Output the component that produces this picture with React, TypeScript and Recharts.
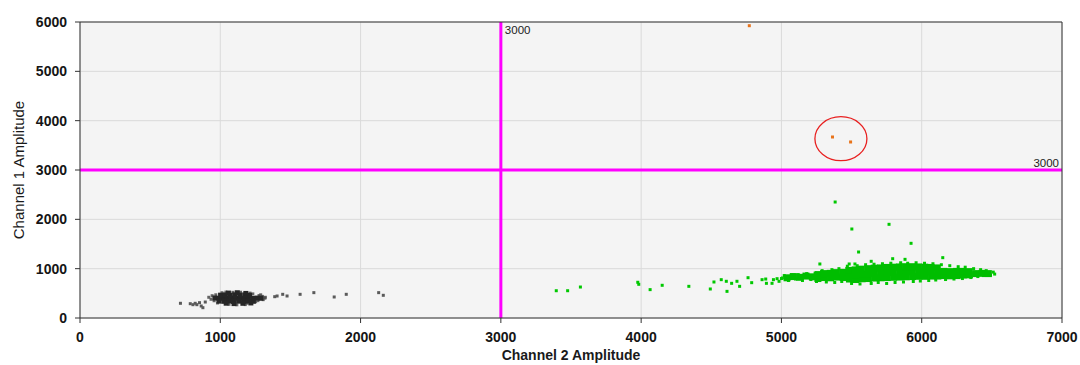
import React from 'react';
import {
  ScatterChart, Scatter, XAxis, YAxis, CartesianGrid, ReferenceLine, ReferenceDot,
} from 'recharts';

// droplet amplitudes: [channel 2, channel 1]
const xTicks = [0, 1000, 2000, 3000, 4000, 5000, 6000, 7000];
const yTicks = [0, 1000, 2000, 3000, 4000, 5000, 6000];
const thresholdCh1 = 3000;
const thresholdCh2 = 3000;
const circled = [5424, 3634];

// double negative cluster (dense centre + loose edge)
const grayCore: [number, number][] = [
  [962, 405], [990, 398], [1021, 402], [1050, 395], [1081, 404], [1110, 399], [1139, 406], [1171, 398],
  [1200, 403], [1231, 397], [1262, 404], [1290, 400],
  [992, 342], [1026, 338], [1061, 345], [1094, 336], [1131, 341], [1166, 337], [1199, 344], [1236, 339],
  [1002, 463], [1036, 468], [1071, 461], [1104, 470], [1142, 464], [1176, 467], [1209, 460],
  [1058, 505], [1121, 512], [1182, 498],
  [1042, 300], [1098, 292], [1161, 298], [1218, 305],
];
const grayEdge: [number, number][] = [
  [918, 420], [934, 380], [942, 452], [956, 350], [968, 470], [980, 305], [1012, 512], [1040, 525],
  [1062, 278], [1090, 520], [1118, 268], [1144, 522], [1178, 272], [1190, 300], [1212, 505],
  [1232, 488], [1252, 330], [1268, 352], [1276, 455], [1288, 470], [1300, 438], [1306, 372],
  [1318, 402], [1321, 420],
];
const graySparse: [number, number][] = [
  [716, 298], [786, 290], [805, 270], [821, 298], [833, 270], [852, 311], [864, 243], [876, 209],
  [893, 324], [1388, 432], [1405, 446], [1445, 480], [1476, 446], [1569, 480], [1667, 514],
  [1812, 426], [1898, 480], [2129, 514], [2162, 460],
];

// channel 2 positive cluster
const greenCore: [number, number][] = [
  [5040, 815], [5085, 840], [5130, 825], [5175, 850], [5220, 835],
  [5260, 800], [5262, 880], [5305, 820], [5300, 900], [5350, 815], [5348, 905],
  [5395, 830], [5392, 920], [5440, 820], [5437, 925],
  [5485, 790], [5482, 885], [5480, 965], [5530, 780], [5528, 880], [5526, 975],
  [5575, 795], [5573, 890], [5570, 990], [5620, 800], [5618, 900], [5616, 1000],
  [5665, 810], [5663, 905], [5661, 1010], [5710, 815], [5708, 915], [5706, 1015],
  [5755, 820], [5753, 920], [5751, 1025], [5800, 825], [5798, 925], [5796, 1030],
  [5845, 830], [5843, 930], [5841, 1035], [5890, 835], [5888, 935], [5886, 1040],
  [5935, 840], [5933, 940], [5931, 1040], [5980, 845], [5978, 940], [5976, 1035],
  [6025, 845], [6023, 940], [6021, 1030], [6070, 850], [6068, 940], [6066, 1025],
  [6115, 850], [6113, 935], [6111, 1015],
  [6160, 860], [6158, 945], [6205, 855], [6203, 940], [6250, 860], [6248, 945],
  [6295, 870], [6293, 945], [6340, 875], [6338, 940],
  [6385, 900], [6430, 905], [6475, 900],
];
const greenEdge: [number, number][] = [
  [5000, 800], [5020, 860], [5050, 760], [5070, 870], [5100, 790], [5120, 880], [5150, 760],
  [5180, 900], [5210, 780], [5240, 910], [5250, 740], [5290, 960], [5320, 730], [5360, 980],
  [5380, 720], [5410, 1000], [5430, 740], [5470, 1050], [5500, 700], [5540, 1060], [5560, 690],
  [5600, 1080], [5640, 700], [5660, 1090], [5690, 720], [5720, 1100], [5750, 700], [5780, 1110],
  [5810, 720], [5850, 1120], [5870, 730], [5900, 1110], [5940, 740], [5960, 1120], [5990, 750],
  [6020, 1110], [6050, 760], [6080, 1100], [6100, 770], [6140, 1080], [6170, 780], [6200, 1060],
  [6230, 790], [6260, 1040], [6290, 800], [6310, 1030], [6350, 820], [6370, 1000], [6400, 840],
  [6420, 980], [6440, 860], [6460, 960], [6490, 870], [6510, 930], [6520, 890],
];
const greenSparse: [number, number][] = [
  [3395, 553], [3476, 553], [3567, 628], [3976, 724], [3983, 683], [4064, 575], [4150, 663],
  [4340, 642], [4493, 588], [4519, 730], [4571, 777], [4607, 744], [4612, 540], [4645, 703],
  [4683, 744], [4702, 642], [4762, 817], [4788, 716], [4862, 777], [4888, 790], [4893, 703],
  [4933, 703], [4943, 777], [4969, 797], [4983, 743], [5007, 811], [5060, 824], [5086, 871],
  [5119, 811],
  [5383, 2351], [5502, 1804], [5767, 1899], [5924, 1514], [5550, 1338], [6150, 1223],
  [5274, 1095], [5640, 1149], [5793, 1202], [5881, 1189], [5483, 1095], [5524, 1095],
];

// double positive droplets
const orangePts: [number, number][] = [
  [4771, 5925], [5364, 3669], [5493, 3568],
];

const toPts = (arr: [number, number][]) => arr.map(([x, y]) => ({ x, y }));

const square = (size: number, fill: string, opacity = 1) => (p: any) => (
  <rect x={p.cx - size / 2} y={p.cy - size / 2} width={size} height={size} fill={fill} fillOpacity={opacity} />
);

const FONT = '"Liberation Sans", Arial, sans-serif';
const tickStyle = { fontSize: 14, fontWeight: 700, fill: '#151515', fontFamily: FONT };

const VLabel = (props: any) => {
  const { x, y } = props.viewBox;
  return (
    <text x={x + 4} y={y + 12} fontSize={11.5} fill="#222" fontFamily={FONT}>
      {thresholdCh2}
    </text>
  );
};

const HLabel = (props: any) => {
  const { x, y, width } = props.viewBox;
  return (
    <text x={x + width - 3} y={y - 3} fontSize={11.5} fill="#222" fontFamily={FONT} textAnchor="end">
      {thresholdCh1}
    </text>
  );
};

export default function App() {
  return (
    <div style={{ position: 'absolute', left: 0, top: 0, width: 1080, height: 365, background: '#fff', overflow: 'hidden' }}>
      <ScatterChart width={1080} height={365} margin={{ top: 22, right: 18, bottom: 0, left: 0 }}>
        <CartesianGrid fill="#f4f4f4" stroke="#dadada" />
        <XAxis
          type="number" dataKey="x" domain={[0, 7000]} ticks={xTicks} height={47}
          tick={tickStyle} tickSize={5} tickMargin={9}
          axisLine={{ stroke: '#333' }} tickLine={{ stroke: '#333' }} allowDataOverflow
        />
        <XAxis
          xAxisId="top" orientation="top" mirror type="number" domain={[0, 7000]} ticks={xTicks}
          height={4} tick={false} tickSize={3} axisLine={{ stroke: '#333' }} tickLine={{ stroke: '#333' }}
        />
        <YAxis
          type="number" dataKey="y" domain={[0, 6000]} ticks={yTicks} width={80}
          tick={tickStyle} tickSize={5} tickMargin={8}
          axisLine={{ stroke: '#333' }} tickLine={{ stroke: '#333' }} allowDataOverflow
        />
        <YAxis
          yAxisId="right" orientation="right" mirror type="number" domain={[0, 6000]} ticks={yTicks}
          width={4} tick={false} tickSize={3} axisLine={{ stroke: '#333' }} tickLine={{ stroke: '#333' }}
        />
        <ReferenceLine x={thresholdCh2} stroke="#ff00ff" strokeWidth={3} label={<VLabel />} />
        <ReferenceLine y={thresholdCh1} stroke="#ff00ff" strokeWidth={3} label={<HLabel />} />
        <Scatter data={toPts(graySparse)} shape={square(3, '#5a5a5a')} isAnimationActive={false} />
        <Scatter data={toPts(grayEdge)} shape={square(3, '#4a4a4a', 0.85)} isAnimationActive={false} />
        <Scatter data={toPts(grayCore)} shape={square(5, '#262626')} isAnimationActive={false} />
        <Scatter data={toPts(greenSparse)} shape={square(3, '#00c800')} isAnimationActive={false} />
        <Scatter data={toPts(greenEdge)} shape={square(3, '#00c800')} isAnimationActive={false} />
        <Scatter data={toPts(greenCore)} shape={square(7, '#00bd00')} isAnimationActive={false} />
        <Scatter data={toPts(orangePts)} shape={square(3, '#e8731a')} isAnimationActive={false} />
        <ReferenceDot
          x={circled[0]} y={circled[1]}
          shape={(p: any) => <ellipse cx={p.cx} cy={p.cy} rx={26} ry={22} fill="none" stroke="#e82020" strokeWidth={1.3} />}
        />
      </ScatterChart>
      <div
        style={{
          position: 'absolute', left: 18, top: 170, transform: 'translate(-50%, -50%) rotate(-90deg)',
          whiteSpace: 'nowrap', fontFamily: FONT, fontSize: 15, color: '#1a1a1a',
        }}
      >
        Channel 1 Amplitude
      </div>
      <div
        style={{
          position: 'absolute', left: 571, top: 355, transform: 'translate(-50%, -50%)',
          whiteSpace: 'nowrap', fontFamily: FONT, fontSize: 14, fontWeight: 700, color: '#1a1a1a',
          lineHeight: '16px',
        }}
      >
        Channel 2 Amplitude
      </div>
    </div>
  );
}
